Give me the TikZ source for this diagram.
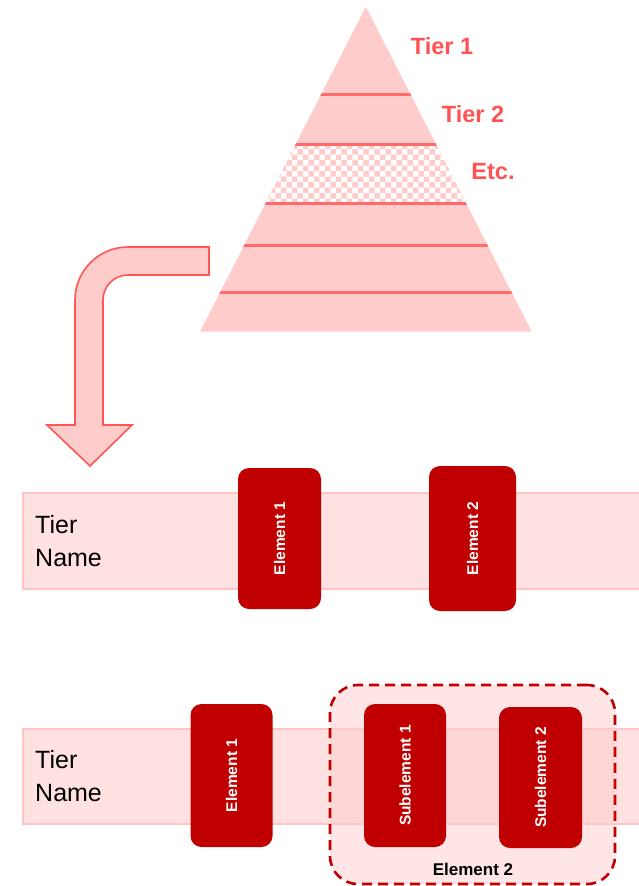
\documentclass[tikz,border=0pt]{standalone}
\usepackage{fontspec}
\setmainfont{Liberation Sans}
\usetikzlibrary{patterns}
\definecolor{pyrfill}{HTML}{FFCCCC}
\definecolor{pyrline}{HTML}{FF6B6B}
\definecolor{tiertext}{HTML}{FF5252}
\definecolor{arrowline}{HTML}{FF5555}
\definecolor{bandfill}{HTML}{FFE1E1}
\definecolor{bandline}{HTML}{FFC4C4}
\definecolor{elemred}{HTML}{C00000}
\begin{document}
\begin{tikzpicture}[x=1pt,y=-1pt,
  tierlabel/.style={text=tiertext, font=\fontsize{23.5}{28}\selectfont\bfseries, inner sep=0},
  tierrule/.style={draw=pyrline, line width=3pt},
  band/.style={fill=bandfill, draw=bandline, line width=2pt},
  bandname/.style={anchor=west, align=left, font=\fontsize{25}{33}\selectfont, inner sep=0},
  elem/.style={fill=elemred, rounded corners=11pt, rotate=90, inner sep=0,
    text=white, font=\fontsize{15.5}{18}\selectfont\bfseries},
  group/.style={draw=elemred, dashed, dash pattern=on 10pt off 6pt, line width=2.6pt,
    fill=pyrfill, fill opacity=0.5, text opacity=1, rounded corners=28pt,
    minimum width=285pt, minimum height=199pt, inner sep=0},
  grouplabel/.style={font=\fontsize{17}{20}\selectfont\bfseries, inner sep=0}
]
\useasboundingbox (0,0) rectangle (639,886);
\clip (0,0) rectangle (639,886);

% pyramid
\coordinate (apex) at (365.8,6.7);
\coordinate (baseL) at (200,331.7);
\coordinate (baseR) at (531.7,331.7);
\fill[pyrfill] (apex) -- (baseL) -- (baseR) -- cycle;
\begin{scope}
  \clip (apex) -- (baseL) -- (baseR) -- cycle;
  \fill[white] (200,144) rectangle (540,203);
  \fill[pattern=checkerboard, pattern color=pyrfill] (200,144) rectangle (540,203);
  \draw[tierrule] (300,94) -- (430,94);
  \draw[tierrule] (280,144) -- (450,144);
  \draw[tierrule] (250,203) -- (480,203);
  \draw[tierrule] (230,245) -- (500,245);
  \draw[tierrule] (200,292) -- (530,292);
\end{scope}
\node[tierlabel] (t1) at (442,46) {Tier 1};
\node[tierlabel] (t2) at (473,114) {Tier 2};
\node[tierlabel] (etc) at (493,172) {Etc.};

% bent block arrow
\draw[fill=pyrfill, draw=arrowline, line width=1.6pt, line join=miter]
  (209,247) [rounded corners=53pt] -- (75,247) [sharp corners] -- (75,425)
  -- (47,425) -- (90,466) -- (132,425) -- (103,425)
  [rounded corners=25pt] -- (103,275) [sharp corners] -- (209,275) -- cycle;

% first tier
\draw[band] (23,493) rectangle (650,589);
\node[bandname] (name1) at (35,541) {Tier\\Name};
\node[elem, minimum width=141pt, minimum height=83pt] (e11) at (279.5,538.5) {Element 1};
\node[elem, minimum width=145pt, minimum height=87pt] (e12) at (472.5,538.5) {Element 2};

% second tier
\draw[band] (23,729) rectangle (650,824);
\node[bandname] (name2) at (35,776.5) {Tier\\Name};
\node[elem, minimum width=143pt, minimum height=82pt] (e21) at (231.5,775.5) {Element 1};
\node[group] (e22) at (472.5,784.5) {};
\node[grouplabel] (e22lab) at (473,869) {Element 2};
\node[elem, minimum width=143pt, minimum height=82pt] (s1) at (405,775.5) {Subelement 1};
\node[elem, minimum width=141pt, minimum height=83pt] (s2) at (540.5,777.5) {Subelement 2};
\end{tikzpicture}
\end{document}
